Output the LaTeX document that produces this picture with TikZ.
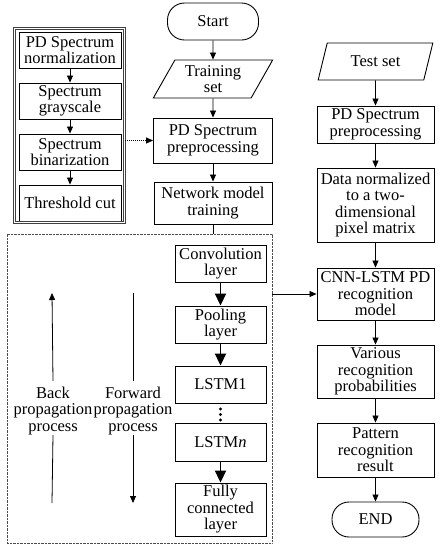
\documentclass[tikz,border=0pt]{standalone}
\usepackage{fontspec}
\setmainfont{Liberation Serif}
\usetikzlibrary{arrows.meta,shapes.geometric}
\begin{document}
\begin{tikzpicture}[x=1pt,y=-1pt,
  every node/.style={font=\fontsize{16.5}{16.5}\selectfont, align=center, inner sep=0pt},
  box/.style={draw, line width=0.9pt},
  term/.style={draw, line width=0.9pt, rounded corners=17pt},
  para/.style={draw, line width=0.9pt, trapezium, trapezium stretches=true},
  groupbox/.style={draw=black!75, double, double distance=1.2pt, line width=0.5pt},
  bigbox/.style={draw=black!70, line width=0.9pt, dash pattern=on 0.8pt off 0.6pt},
  arr/.style={line width=0.8pt, -{Triangle[length=7pt,width=6pt]}},
  thickarr/.style={line width=1.8pt, -{Triangle[length=12pt,width=11pt]}},
  dotarr/.style={line width=0.8pt, dash pattern=on 1pt off 1pt, -{Triangle[length=7pt,width=6pt]}},
  plain/.style={line width=0.8pt}
]
\useasboundingbox (0,0) rectangle (443,550);
\fill[white] (0,0) rectangle (443,550);

% left preprocessing group
\node[box, minimum width=102pt, minimum height=36pt] (n1) at (70,50) {PD Spectrum\\normalization};
\node[box, minimum width=102pt, minimum height=36pt] (n2) at (70,101) {Spectrum\\grayscale};
\node[box, minimum width=102pt, minimum height=36pt] (n3) at (70,152) {Spectrum\\binarization};
\node[box, minimum width=102pt, minimum height=36pt] (n4) at (70,203) {Threshold cut};
\node[groupbox, minimum width=110pt, minimum height=194pt] (grp) at (69.5,125.5) {};

% middle column
\node[term, minimum width=91pt, minimum height=37pt] (start) at (213,21.5) {Start};
\node[para, trapezium left angle=60, trapezium right angle=120, minimum width=120pt, minimum height=38pt] (train) at (213,79) {Training\\set};
\node[box, minimum width=119pt, minimum height=45pt] (prep1) at (213,140.5) {PD Spectrum\\preprocessing};
\node[box, minimum width=118pt, minimum height=42pt] (nmt) at (213,203) {Network model\\training};

% big dotted box
\node[bigbox, minimum width=265pt, minimum height=309pt] (big) at (139.5,388.5) {};
\node[box, minimum width=91pt, minimum height=37pt] (conv) at (220.5,263.5) {Convolution\\layer};
\node[box, minimum width=91pt, minimum height=37pt] (pool) at (220.5,324.5) {Pooling\\layer};
\node[box, minimum width=91pt, minimum height=37pt] (lstm1) at (220.5,384.5) {LSTM1};
\node[box, minimum width=91pt, minimum height=38pt] (lstmn) at (220.5,442) {LSTM\textit{n}};
\node[box, minimum width=91pt, minimum height=53pt] (fc) at (220.5,509.5) {Fully\\connected\\layer};
\fill (220.5,409) circle (1.7pt) (220.5,414.5) circle (1.7pt) (220.5,420) circle (1.7pt);

\node (backlbl) at (53,411) {Back\\propagation\\process};
\node (fwdlbl) at (133,411) {Forward\\propagation\\process};
\coordinate (backtop) at (52,293);
\coordinate (backbot) at (52,503);
\coordinate (fwdtop) at (133,293);
\coordinate (fwdbot) at (133,503);

% right column
\node[para, trapezium left angle=67, trapezium right angle=113, minimum width=115pt, minimum height=37pt] (test) at (375.5,61.5) {Test set};
\node[box, minimum width=117pt, minimum height=37pt] (prep2) at (375.5,124.5) {PD Spectrum\\preprocessing};
\node[box, minimum width=117pt, minimum height=74pt] (data) at (375.5,205) {Data normalized\\to a two-\\dimensional\\pixel matrix};
\node[box, minimum width=117pt, minimum height=52pt] (cnn) at (375.5,294) {CNN-LSTM PD\\recognition\\model};
\node[box, minimum width=117pt, minimum height=53pt] (var) at (375.5,371.5) {Various\\recognition\\probabilities};
\node[box, minimum width=117pt, minimum height=54pt] (pat) at (375.5,450) {Pattern\\recognition\\result};
\node[term, minimum width=87pt, minimum height=35pt] (end) at (375.5,519.5) {END};

% connectors
\draw[arr] (n1) -- (n2);
\draw[arr] (n2) -- (n3);
\draw[arr] (n3) -- (n4);
\draw[dotarr] (grp.east |- prep1) -- (prep1.west);
\draw[arr] (start) -- (train);
\draw[arr] (train) -- (prep1);
\draw[arr] (prep1) -- (nmt);
\draw[plain] (nmt.south) -- (nmt.south |- big.north);
\draw[thickarr] (conv) -- (pool);
\draw[thickarr] (pool) -- (lstm1);
\draw[thickarr] (lstmn) -- (fc);
\draw[plain] (backbot) -- (backlbl.south);
\draw[arr] ([yshift=6pt]backlbl.north) -- (backtop);
\draw[plain] (fwdtop) -- ([yshift=6pt]fwdlbl.north);
\draw[arr] (fwdlbl.south) -- (fwdbot);
\draw[arr] (big.east |- cnn) -- (cnn.west);
\draw[arr] (test) -- (prep2);
\draw[arr] (prep2) -- (data);
\draw[arr] (data) -- (cnn);
\draw[arr] (cnn) -- (var);
\draw[arr] (var) -- (pat);
\draw[arr] (pat) -- (end);
\end{tikzpicture}
\end{document}
